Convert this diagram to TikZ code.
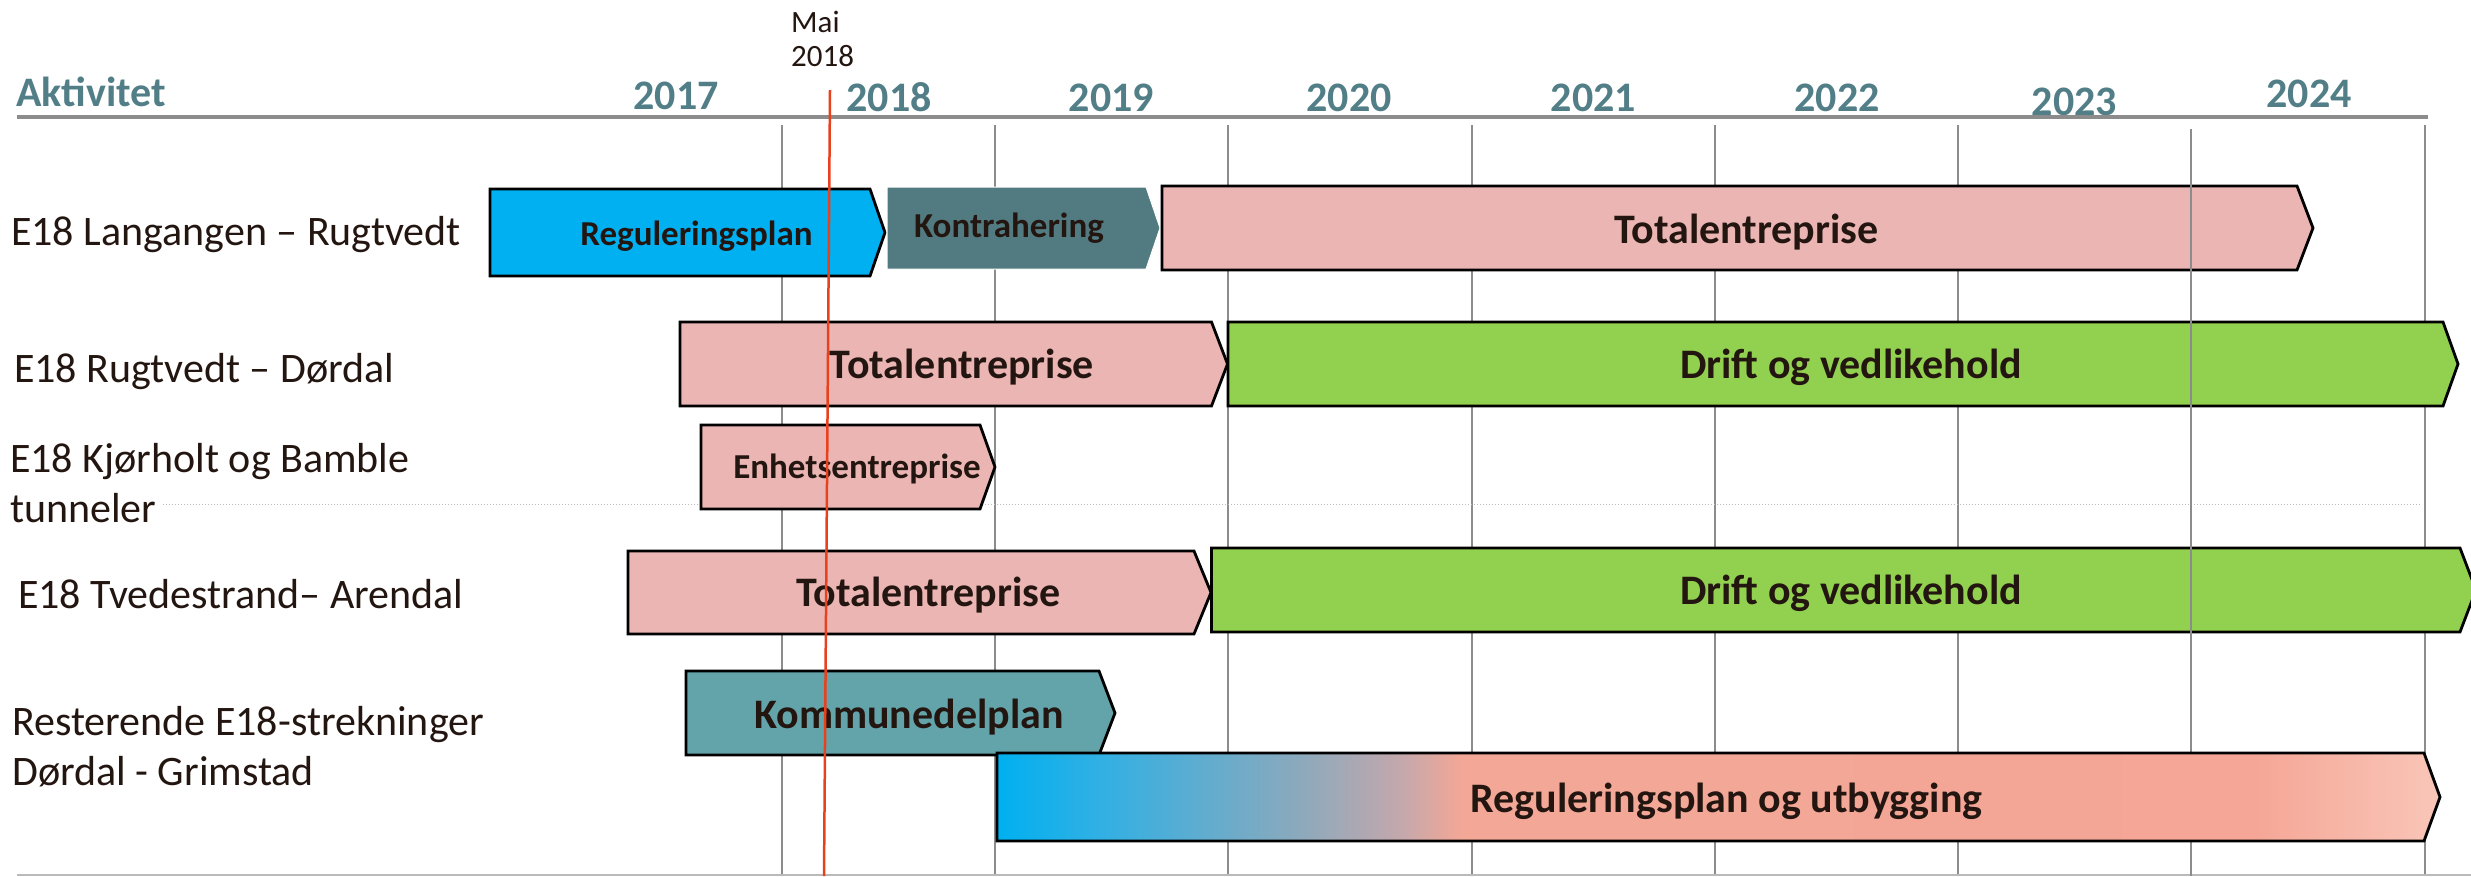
\documentclass[tikz,border=0pt]{standalone}
\usepackage{fontspec}
\setmainfont{Carlito}
\usetikzlibrary{calc}
\definecolor{hdr}{HTML}{527F87}
\definecolor{txt}{HTML}{231510}
\definecolor{regblue}{HTML}{00B0F0}
\definecolor{kontr}{HTML}{517B81}
\definecolor{pinkbar}{HTML}{EBB5B3}
\definecolor{drgreen}{HTML}{92D050}
\definecolor{kdp}{HTML}{63A4AA}
\definecolor{gridc}{HTML}{8C8C8C}
\definecolor{redl}{HTML}{E8411E}
\definecolor{gA}{HTML}{30B0E4}
\definecolor{gB}{HTML}{8CA9BC}
\definecolor{gC}{HTML}{C4A8AC}
\definecolor{gD}{HTML}{F2A797}
\definecolor{gE}{HTML}{F5A696}
\definecolor{gF}{HTML}{F9C6B8}
\pgfdeclarehorizontalshading{rpshade}{100bp}{color(0bp)=(regblue); color(25bp)=(regblue); color(28.5bp)=(gA); color(35.5bp)=(gB); color(39bp)=(gC); color(41bp)=(gD); color(68.5bp)=(gE); color(75bp)=(gF); color(100bp)=(gF)}
\newcommand{\chev}[6]{\path[#1] (#2,#5) -- (#3,#5) -- (#4,{(#5+#6)/2}) -- (#3,#6) -- (#2,#6) -- cycle;}
\tikzset{
  bar/.style={draw=black, line width=2.8pt, line join=miter},
  lbl/.style={font=\fontsize{42}{50}\selectfont, text=txt, inner sep=0pt, anchor=base west},
  btxt/.style={font=\fontsize{42}{50}\selectfont\bfseries, text=txt, inner sep=0pt, anchor=base},
  bsmall/.style={font=\fontsize{35}{42}\selectfont\bfseries, text=txt, inner sep=0pt, anchor=base},
  yr/.style={font=\fontsize{42}{50}\selectfont\bfseries, text=hdr, inner sep=0pt, anchor=base},
  mai/.style={font=\fontsize{31}{34}\selectfont, text=txt, inner sep=0pt, anchor=base west},
  gridline/.style={draw=gridc, line width=2pt},
}
\begin{document}
\begin{tikzpicture}[x=1pt,y=-1pt]
\useasboundingbox (0,0) rectangle (2471,876);
% header
\node[font=\fontsize{42}{50}\selectfont\bfseries, text=hdr, inner sep=0pt, anchor=base west] (akt) at (16,106) {Aktivitet};
\node[yr] (y17) at (676,109) {2017};
\node[yr] (y18) at (889,111) {2018};
\node[yr] (y19) at (1111.5,111) {2019};
\node[yr] (y20) at (1349,111) {2020};
\node[yr] (y21) at (1593.5,111) {2021};
\node[yr] (y22) at (1837,111) {2022};
\node[yr] (y23) at (2074.5,115) {2023};
\node[yr] (y24) at (2309,107) {2024};
\node[mai] (mai1) at (791,32) {Mai};
\node[mai] (mai2) at (791,66) {2018};
\draw[draw=gridc, line width=4pt] (17,117) -- (2428,117);
% grid
\foreach \gx in {782,995,1228,1472,1715,1958,2425} \draw[gridline] (\gx,125) -- (\gx,876);
\draw[draw=gridc!60, line width=1pt, dotted] (163,504) -- (2422,504);
\draw[draw=gridc!60, line width=2pt] (17,875) -- (2471,875);
% row labels
\node[lbl] (r1) at (11,245) {E18 Langangen – Rugtvedt};
\node[lbl] (r2) at (14,382) {E18 Rugtvedt – Dørdal};
\node[lbl] (r3a) at (10,472) {E18 Kjørholt og Bamble};
\node[lbl] (r3b) at (10,522) {tunneler};
\node[lbl] (r4) at (18,608) {E18 Tvedestrand– Arendal};
\node[lbl] (r5a) at (12,735) {Resterende E18-strekninger};
\node[lbl] (r5b) at (12,785) {Dørdal - Grimstad};
% row 1
\chev{bar, fill=regblue}{490}{870}{885}{189}{276}
\chev{fill=kontr, draw=white, line width=1pt}{887}{1146}{1160}{187}{269}
\chev{bar, fill=pinkbar}{1162}{2297}{2313}{186}{270}
\node[bsmall] (t1) at (696.5,245) {Reguleringsplan};
\node[bsmall] (t2) at (1009,237) {Kontrahering};
\node[btxt] (t3) at (1746.5,243) {Totalentreprise};
% row 2
\chev{bar, fill=pinkbar}{680}{1211.5}{1227.5}{322}{406}
\chev{bar, fill=drgreen}{1228}{2443}{2458}{322}{406}
\node[btxt] (t4) at (962,378) {Totalentreprise};
\node[btxt] (t5) at (1851,378) {Drift og vedlikehold};
% row 3
\chev{bar, fill=pinkbar}{701}{980}{995}{425}{509}
\node[bsmall] (t6) at (857,478) {Enhetsentreprise};
% row 4
\chev{bar, fill=pinkbar}{628}{1194}{1211}{551}{634}
\chev{bar, fill=drgreen}{1211.5}{2460}{2476}{548}{632}
\node[btxt] (t7) at (928.5,606) {Totalentreprise};
\node[btxt] (t8) at (1851,604) {Drift og vedlikehold};
\draw[gridline] (2191,129) -- (2191,876);
% row 5
\chev{bar, fill=kdp}{686}{1099}{1115}{671}{755}
\node[btxt] (t9) at (909,728) {Kommunedelplan};
\chev{shading=rpshade}{997}{2424}{2440}{753}{841}
\chev{draw=black, line width=2.8pt}{997}{2424}{2440}{753}{841}
\node[btxt] (t10) at (1726.5,812) {Reguleringsplan og utbygging};
% today line
\coordinate (rtop) at (830,90);
\coordinate (rbot) at (824,876);
\draw[draw=redl, line width=2.5pt] (rtop) -- (rbot);
\end{tikzpicture}
\end{document}
